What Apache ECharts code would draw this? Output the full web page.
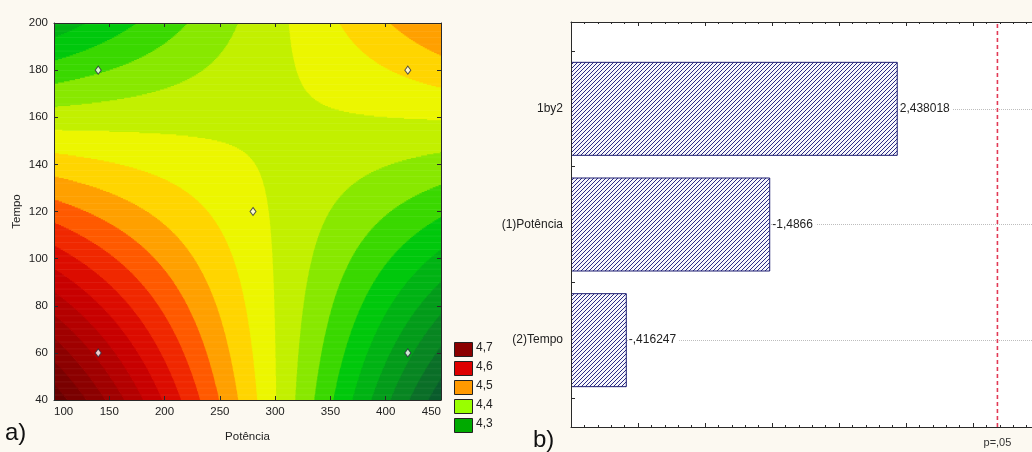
<!DOCTYPE html>
<html><head><meta charset="utf-8">
<script src="https://cdn.jsdelivr.net/npm/echarts@6/dist/echarts.min.js"></script>
<style>html,body{margin:0;padding:0;background:#fcf9f1;}#c{width:1032px;height:452px;}</style>
</head><body><div id="c"></div>
<script>
// ---------- panel a: design points and observed response ----------
const potencia = [140, 420, 140, 420, 280];
const tempo = [60, 60, 180, 180, 120];
const resposta = [4.787, 4.111, 4.295, 4.459, 4.413];
const contourLevels = [4.00, 4.05, 4.10, 4.15, 4.20, 4.25, 4.30, 4.35, 4.40, 4.45,
                       4.50, 4.55, 4.60, 4.65, 4.70, 4.75, 4.80, 4.85, 4.90, 4.95];
const legendLabels = ['4,7', '4,6', '4,5', '4,4', '4,3'];
// ---------- panel b: Pareto of standardized effects ----------
const efeitos = ['1by2', '(1)Potência', '(2)Tempo'];
const efeitoValores = [2.438018, -1.4866, -0.416247];
const pCritico = 3.182;
const pRotulo = 'p=,05';

// styles
const bandColors = ['#0a5c2c', '#0b6f28', '#088622', '#039c1a', '#00b314', '#00c80c', '#3ad800',
  '#88e800', '#c2f000', '#ecf600', '#ffd500', '#ffa000', '#ff5a00', '#f02800', '#dc0c00',
  '#c80000', '#b40000', '#a00000', '#8c0000', '#7a0000', '#680000'];
const legendColors = ['#8b0000', '#dd0000', '#ff9900', '#99ff00', '#00aa00'];
const FONT = '"Liberation Sans", Arial, sans-serif';

// ---------- fit the first-order model with interaction (coded units) ----------
const pMin = Math.min(...potencia), pMax = Math.max(...potencia);
const tMin = Math.min(...tempo), tMax = Math.max(...tempo);
const pc = (pMin + pMax) / 2, ph = (pMax - pMin) / 2;
const tc = (tMin + tMax) / 2, th = (tMax - tMin) / 2;
const X1 = potencia.map(p => (p - pc) / ph);
const X2 = tempo.map(t => (t - tc) / th);
const X12 = X1.map((v, i) => v * X2[i]);
const dot = (a, b) => a.reduce((s, v, i) => s + v * b[i], 0);
const b0 = resposta.reduce((s, v) => s + v, 0) / resposta.length;
const b1 = dot(X1, resposta) / dot(X1, X1);
const b2 = dot(X2, resposta) / dot(X2, X2);
const b12 = dot(X12, resposta) / dot(X12, X12);
function zAt(p, t) {
  const x1 = (p - pc) / ph, x2 = (t - tc) / th;
  return b0 + b1 * x1 + b2 * x2 + b12 * x1 * x2;
}
function band(z) { let b = 0; while (b < contourLevels.length && z >= contourLevels[b]) b++; return b; }

// contour bands as horizontal runs of equal level
const P0 = 100, P1 = 450, T0 = 40, T1 = 200;
const runs = [];
const dT = 0.5, dP = 0.25;
const nRows = Math.round((T1 - T0) / dT), nCols = Math.round((P1 - P0) / dP);
for (let r = 0; r < nRows; r++) {
  const ta = T0 + r * dT, tb = ta + dT, tm = ta + dT / 2;
  let start = P0, cur = band(zAt(P0 + dP / 2, tm));
  for (let c = 1; c < nCols; c++) {
    const p = P0 + c * dP;
    const b = band(zAt(p + dP / 2, tm));
    if (b !== cur) { runs.push([start, p, ta, tb, cur]); start = p; cur = b; }
  }
  runs.push([start, P1, ta, tb, cur]);
}

function hatch() {
  const c = document.createElement('canvas'); c.width = 4; c.height = 4;
  const g = c.getContext('2d');
  g.fillStyle = '#f6f6fc'; g.fillRect(0, 0, 4, 4);
  g.strokeStyle = '#2b2b85'; g.lineWidth = 1;
  g.beginPath();
  g.moveTo(-1, 5); g.lineTo(5, -1);
  g.moveTo(-1, 1); g.lineTo(1, -1);
  g.moveTo(3, 5); g.lineTo(5, 3);
  g.stroke();
  return c;
}
function fmt(v) {
  let s = String(v);
  s = s.replace(/^(-?)0\./, '$1.');
  return s.replace('.', ',');
}

const chart = echarts.init(document.getElementById('c'), null, { renderer: 'canvas' });
const axisCol = '#2a2a2a';
const frameAxis = (extra) => Object.assign({
  axisLine: { show: true, lineStyle: { color: axisCol, width: 1 } },
  axisTick: { show: true, inside: true, length: 4, lineStyle: { color: axisCol } },
  splitLine: { show: false },
  z: 10
}, extra);

const xMaxB = 3.44;
const option = {
  animation: false,
  backgroundColor: '#fcf9f1',
  textStyle: { fontFamily: FONT },
  grid: [
    { left: 54, top: 23, width: 387, height: 377 },
    { left: 571, top: 51, right: 0, height: 347 },
    { left: 571, top: 22, right: 0, height: 405, show: true, backgroundColor: '#ffffff', borderWidth: 0 }
  ],
  xAxis: [
    frameAxis({ gridIndex: 0, type: 'value', min: P0, max: P1, interval: 50, position: 'bottom',
      name: 'Potência', nameLocation: 'middle', nameGap: 31,
      nameTextStyle: { fontSize: 11.5, color: '#222', fontFamily: FONT },
      axisLabel: { fontSize: 11.5, color: '#222', margin: 6, fontFamily: FONT, alignMinLabel: 'left', alignMaxLabel: 'right' } }),
    frameAxis({ gridIndex: 0, type: 'value', min: P0, max: P1, interval: 50, position: 'top', axisLabel: { show: false } }),
    { gridIndex: 1, type: 'value', min: 0, max: xMaxB, show: false },
    frameAxis({ gridIndex: 2, type: 'value', min: 0, max: xMaxB, interval: 0.5, position: 'bottom',
      axisLabel: { show: false }, minorTick: { show: true, splitNumber: 5, length: 2, lineStyle: { color: axisCol } } }),
    frameAxis({ gridIndex: 2, type: 'value', min: 0, max: xMaxB, interval: 0.5, position: 'top',
      axisLabel: { show: false }, minorTick: { show: true, splitNumber: 5, length: 2, lineStyle: { color: axisCol } } })
  ],
  yAxis: [
    frameAxis({ gridIndex: 0, type: 'value', min: T0, max: T1, interval: 20, position: 'left',
      name: 'Tempo', nameLocation: 'middle', nameGap: 31, nameRotate: 90,
      nameTextStyle: { fontSize: 11.5, color: '#222', fontFamily: FONT },
      axisLabel: { fontSize: 11.5, color: '#222', margin: 6, fontFamily: FONT } }),
    frameAxis({ gridIndex: 0, type: 'value', min: T0, max: T1, interval: 20, position: 'right', axisLabel: { show: false } }),
    { gridIndex: 1, type: 'category', data: efeitos, inverse: true,
      axisLine: { show: false },
      axisTick: { show: true, inside: true, length: 4, lineStyle: { color: axisCol } },
      axisLabel: { fontSize: 12, color: '#222', margin: 8, fontFamily: FONT },
      splitLine: { show: false }, z: 10 },
    frameAxis({ gridIndex: 2, type: 'value', min: 0, max: 1, position: 'left',
      axisTick: { show: false }, axisLabel: { show: false } })
  ],
  series: [
    {
      type: 'custom', xAxisIndex: 0, yAxisIndex: 0, clip: true, z: 1, progressive: 0, silent: true,
      encode: { x: [0, 1], y: [2, 3] },
      data: runs,
      renderItem(params, api) {
        const a = api.coord([api.value(0), api.value(3)]);
        const b = api.coord([api.value(1), api.value(2)]);
        return { type: 'rect',
          shape: { x: a[0], y: a[1], width: b[0] - a[0] + 0.6, height: b[1] - a[1] + 0.6 },
          style: { fill: bandColors[api.value(4)] } };
      }
    },
    {
      type: 'scatter', xAxisIndex: 0, yAxisIndex: 0, z: 5, silent: true,
      symbol: 'diamond', symbolSize: [6, 8],
      itemStyle: { color: '#ffffff', borderColor: '#2a2a40', borderWidth: 1 },
      data: potencia.map((p, i) => [p, tempo[i]])
    },
    {
      type: 'bar', xAxisIndex: 2, yAxisIndex: 2, z: 3, barWidth: 94, silent: true,
      data: efeitoValores.map(v => Math.abs(v)),
      itemStyle: { color: { image: hatch(), repeat: 'repeat' }, borderColor: '#1c1c70', borderWidth: 1 },
      label: { show: true, position: 'right', distance: 2, fontSize: 12, color: '#222', fontFamily: FONT,
        backgroundColor: '#ffffff', padding: [0, 3, 0, 0],
        formatter: p => fmt(efeitoValores[p.dataIndex]) },
      markLine: { silent: true, z: 1, symbol: 'none', label: { show: false },
        lineStyle: { color: '#bdbdbd', type: 'dotted', width: 1 },
        data: efeitos.map(c => ({ yAxis: c })) }
    },
    {
      type: 'line', xAxisIndex: 3, yAxisIndex: 3, silent: true, z: 6,
      showSymbol: true, symbol: 'circle', symbolSize: 0.1,
      itemStyle: { color: '#e23a55' },
      lineStyle: { color: '#e23a55', type: [4, 3], width: 1.6 },
      label: { show: false },
      data: [
        { value: [pCritico, 0], label: { show: true, position: 'bottom', distance: 10, formatter: pRotulo, color: '#333', fontSize: 11, fontFamily: FONT } },
        { value: [pCritico, 1] }
      ]
    }
  ],
  graphic: [
    ...legendLabels.map((t, i) => ({ type: 'rect', left: 454, top: 342 + i * 19,
      shape: { width: 18, height: 14 }, style: { fill: legendColors[i], stroke: '#222', lineWidth: 1 } })),
    ...legendLabels.map((t, i) => ({ type: 'text', left: 476, top: 342 + i * 19,
      style: { text: t, fill: '#222', font: '12px ' + FONT } })),
    { type: 'text', left: 5, top: 421, style: { text: 'a)', fill: '#111', font: '24px "Liberation Sans", Arial, sans-serif' } },
    { type: 'text', left: 533, top: 428, style: { text: 'b)', fill: '#111', font: '24px "Liberation Sans", Arial, sans-serif' } }
  ]
};
chart.setOption(option);
</script></body></html>
